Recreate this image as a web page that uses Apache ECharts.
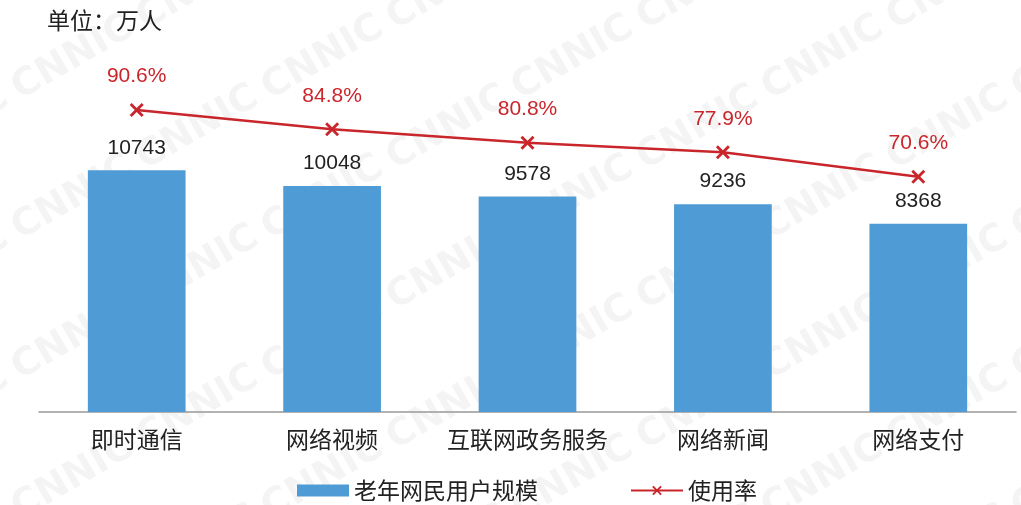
<!DOCTYPE html>
<html><head><meta charset="utf-8">
<script src="https://cdn.jsdelivr.net/npm/echarts@6/dist/echarts.min.js"></script>
<style>html,body{margin:0;padding:0;background:#fff}#c{width:1021px;height:505px}</style>
</head><body><div id="c"></div>
<script>
const categories = ['即时通信', '网络视频', '互联网政务服务', '网络新闻', '网络支付'];
const userCounts = [10743, 10048, 9578, 9236, 8368];
const usageRates = [90.6, 84.8, 80.8, 77.9, 70.6];
const seriesNames = ['老年网民用户规模', '使用率'];
const unitLabel = '单位：万人';

// watermark pattern
const wm = document.createElement('canvas');
wm.width = 250; wm.height = 140;
const g = wm.getContext('2d');
g.fillStyle = 'rgba(0,0,0,0.045)';
g.font = 'bold 38px "DejaVu Sans", sans-serif';
function stamp(x, y) { g.save(); g.translate(x, y); g.rotate(-Math.PI / 6); g.fillText('CNNIC', 0, 0); g.restore(); }
stamp(20, 100); stamp(145, 170); stamp(-105, 170); stamp(145, 30); stamp(-105, 30);

const xMark = 'path://M2,0L7,5L12,0L14,2L9,7L14,12L12,14L7,9L2,14L0,12L5,7L0,2Z';
const font = '"Noto Sans CJK SC", "Liberation Sans", sans-serif';

const chart = echarts.init(document.getElementById('c'));
chart.setOption({
  backgroundColor: {image: wm, repeat: 'repeat'},
  textStyle: {fontFamily: font},
  animation: false,
  title: {text: unitLabel, left: 42, top: 4, textStyle: {fontSize: 23, fontWeight: 'normal', color: '#222', fontFamily: font}},
  grid: {left: 39, right: 5, top: 52, bottom: 93},
  legend: {
    bottom: -2, left: 292, itemGap: 92, itemWidth: 52, itemHeight: 12,
    textStyle: {fontSize: 23, color: '#222', fontFamily: font},
    data: [
      {name: seriesNames[0], icon: 'rect'},
      {name: seriesNames[1]}
    ]
  },
  xAxis: {
    type: 'category', data: categories,
    axisLine: {lineStyle: {color: '#999', width: 1.5}},
    axisTick: {inside: true, length: 6, lineStyle: {color: '#999', width: 1.5}},
    axisLabel: {interval: 0, fontSize: 23, color: '#222', margin: 16, fontFamily: font}
  },
  yAxis: [
    {type: 'value', min: 0, max: 16000, show: false, splitLine: {show: false}},
    {type: 'value', min: 0, max: 108, show: false, splitLine: {show: false}}
  ],
  series: [
    {
      name: seriesNames[0], type: 'bar', data: userCounts, barWidth: '50%',
      itemStyle: {color: '#4f9bd5'},
      label: {show: true, position: 'top', distance: 12, fontSize: 21, color: '#222', fontFamily: '"Liberation Sans", sans-serif'}
    },
    {
      name: seriesNames[1], type: 'line', yAxisIndex: 1, data: usageRates,
      symbol: xMark, symbolSize: 14, showSymbol: true,
      lineStyle: {color: '#c9262c', width: 2.5},
      itemStyle: {color: '#c9262c'},
      label: {show: true, position: 'top', distance: 16, fontSize: 21, color: '#c9262c', formatter: '{c}%', fontFamily: '"Liberation Sans", sans-serif'}
    }
  ]
});
</script></body></html>
